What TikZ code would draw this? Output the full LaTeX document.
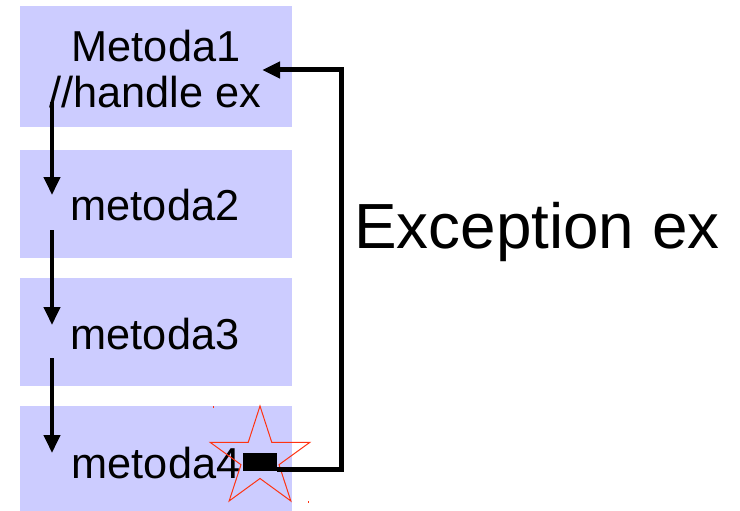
\documentclass[tikz,border=0pt]{standalone}
\usepackage{fontspec}
\setmainfont{Liberation Sans}
\usetikzlibrary{arrows.meta}
\definecolor{boxblue}{HTML}{CCCCFF}
\definecolor{starred}{HTML}{FF3311}
\begin{document}
\begin{tikzpicture}[x=1pt,y=-1pt,
  box/.style={fill=boxblue, draw=none, minimum width=272pt, inner sep=0pt, anchor=north west},
  lbl/.style={font=\fontsize{43.3}{46}\selectfont, anchor=base, inner sep=0pt},
  flow/.style={line width=4pt, -{Triangle[width=16pt,length=18pt]}},
]
\useasboundingbox (0,0) rectangle (740,511);
% boxes
\node[box, minimum height=121pt] (b1) at (20,6) {};
\node[box, minimum height=108pt] (b2) at (20,150) {};
\node[box, minimum height=108pt] (b3) at (20,278) {};
\node[box, minimum height=105pt] (b4) at (20,406) {};
% texts
\node[lbl] (t1a) at (156,62) {Metoda1};
\node[lbl] (t1b) at (155,108) {//handle ex};
\node[lbl] (t2) at (155,220) {metoda2};
\node[lbl] (t3) at (155,349) {metoda3};
\node[lbl] (t4) at (156,478) {metoda4};
% call arrows
\draw[flow] ([xshift=32pt,yshift=25pt]b1.south west) -- ([xshift=32pt,yshift=-45pt]b2.north west);
\draw[flow] ([xshift=32pt,yshift=28pt]b2.south west) -- ([xshift=32pt,yshift=-47pt]b3.north west);
\draw[flow] ([xshift=32pt,yshift=28pt]b3.south west) -- ([xshift=32pt,yshift=-47pt]b4.north west);
% star
\begin{scope}[shift={(260,458.5)}]
\draw[starred, line width=1pt, line join=miter]
  (-90:52.5) -- (-54:20) -- (-18:52.5) -- (18:20) -- (54:52.5) -- (90:20)
  -- (126:52.5) -- (162:20) -- (198:52.5) -- (234:20) -- cycle;
\end{scope}
\fill[starred] (212.5,405.5) rectangle (213.5,407.5);
\fill[starred] (307.5,500.5) rectangle (308.5,502.5);
% thrown exception
\node[fill=black, minimum width=34pt, minimum height=18pt, inner sep=0pt] (exc) at (260,462) {};
\coordinate (ret) at (341,70);
\coordinate (tgt) at (262,70);
\draw[line width=5pt, -{Triangle[width=16pt,length=18pt]}]
  ([yshift=-7pt]exc.east) -| (ret) -- (tgt);
% label
\node[font=\fontsize{63.8}{70}\selectfont, anchor=base west, inner sep=0pt] (lab) at (354,248) {Exception ex};
\end{tikzpicture}
\end{document}
